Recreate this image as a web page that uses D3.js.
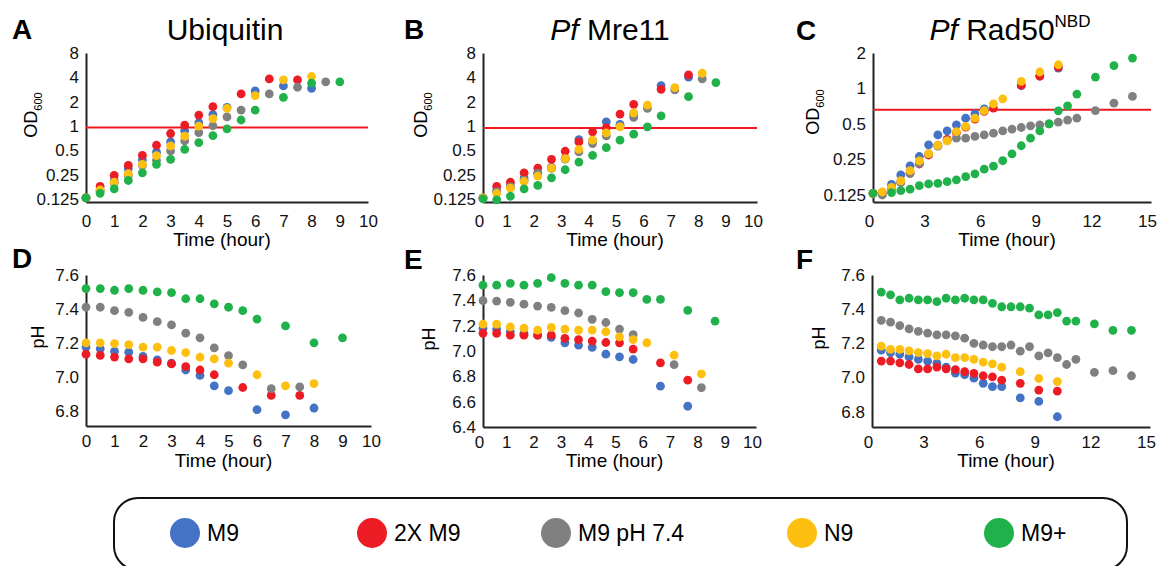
<!DOCTYPE html>
<html>
<head>
<meta charset="utf-8">
<script src="https://cdn.jsdelivr.net/npm/d3@7"></script>
<style>
  body { margin: 0; background: #fff; }
  text { font-family: "Liberation Sans", Arial, Helvetica, sans-serif; }
</style>
</head>
<body>
<svg id="fig" width="1159" height="566"></svg>
<script>
// growth media, in drawing order (later series sit on top, like the excel plot)
const media = ['M9', '2X M9', 'M9 pH 7.4', 'N9', 'M9+'];
const mediaColors = ['#4472c4', '#ed1c24', '#808080', '#fec010', '#21b14b'];

// OD600 readings, [hour, OD]
const odUbqM9   = [[0,.13],[.5,.163],[1,.213],[1.5,.298],[2,.385],[2.5,.48],[3,.638],[3.5,.874],[4,1.10],[4.5,1.39],[5,1.70],[6,2.72],[7,3.14],[8,2.93]];
const odUbq2X   = [[0,.13],[.5,.18],[1,.246],[1.5,.327],[2,.436],[2.5,.58],[3,.81],[3.5,1.03],[4,1.37],[4.5,1.74],[5.5,2.5],[6.5,3.83],[7.5,3.72]];
const odUbqPH   = [[0,.13],[.5,.157],[1,.198],[1.5,.246],[2,.327],[2.5,.378],[3,.493],[3.5,.657],[4,.83],[4.5,1.01],[5,1.30],[5.5,1.58],[6.5,2.5],[7.5,3.02],[8.5,3.52]];
const odUbqN9   = [[0,.13],[.5,.163],[1,.203],[1.5,.258],[2,.337],[2.5,.432],[3,.569],[3.5,.75],[4,1.0],[4.5,1.24],[5,1.66],[6,2.38],[7,3.72],[8,4.10]];
const odUbqPlus = [[0,.13],[.5,.148],[1,.168],[1.5,.213],[2,.265],[2.5,.337],[3,.389],[3.5,.517],[4,.626],[4.5,.765],[5,.925],[5.5,1.19],[6,1.58],[7,2.27],[8,3.39],[9,3.52]];

const odMreM9   = [[0,.13],[.5,.16],[1,.18],[1.5,.228],[2,.262],[2.5,.31],[3,.40],[3.5,.68],[4,.66],[4.5,1.13],[5,1.05],[5.5,1.40],[6.5,3.17],[7.5,4.02]];
const odMre2X   = [[0,.13],[.5,.18],[1,.203],[1.5,.265],[2,.303],[2.5,.389],[3,.489],[3.5,.638],[4,.85],[4.5,.95],[5,1.41],[5.5,1.86],[6.5,2.85],[7.5,4.3]];
const odMrePH   = [[0,.13],[.5,.155],[1,.178],[1.5,.215],[2,.262],[2.5,.30],[3,.39],[3.5,.48],[4,.608],[4.5,.758],[5,1.0],[5.5,1.28],[6,1.66],[7,2.8],[8,3.83]];
const odMreN9   = [[0,.13],[.5,.148],[1,.171],[1.5,.207],[2,.241],[2.5,.303],[3,.396],[3.5,.517],[4,.67],[4.5,.826],[5,.98],[5.5,1.46],[6,1.82],[7,2.99],[8,4.5]];
const odMrePlus = [[0,.126],[.5,.123],[1,.136],[1.5,.168],[2,.185],[2.5,.23],[3,.289],[3.5,.36],[4,.436],[4.5,.543],[5,.67],[5.5,.795],[6,.98],[6.5,1.34],[7.5,2.31],[8.5,3.45]];

const odRadM9   = [[0,.129],[.5,.131],[1,.154],[1.5,.185],[2,.221],[2.5,.265],[3,.333],[3.5,.404],[4,.437],[4.5,.492],[5,.56],[5.5,.608],[6,.673],[8,1.055],[9,1.28],[10,1.49]];
const odRad2X   = [[0,.129],[.5,.131],[1,.142],[1.5,.162],[2,.191],[2.5,.229],[3,.273],[3.5,.33],[4,.37],[4.5,.42],[5,.47],[5.5,.55],[6,.64],[6.5,.682],[8,1.07],[9,1.27],[10,1.52]];
const odRadPH   = [[.5,.125],[1,.142],[1.5,.159],[2,.191],[2.5,.232],[3,.279],[3.5,.324],[4,.362],[4.5,.379],[5,.379],[5.5,.392],[6,.404],[6.5,.418],[7,.437],[7.5,.452],[8,.467],[8.5,.482],[9,.492],[9.5,.502],[10,.518],[10.5,.54],[11,.56],[12,.65],[13,.751],[14,.856]];
const odRadN9   = [[0,.129],[.5,.133],[1,.145],[1.5,.165],[2,.201],[2.5,.243],[3,.28],[3.5,.33],[4,.36],[4.5,.43],[5,.476],[5.5,.56],[6,.65],[6.5,.742],[7,.818],[8,1.149],[9,1.38],[10,1.59]];
const odRadPlus = [[0,.129],[1,.131],[1.5,.136],[2,.140],[2.5,.150],[3,.155],[3.5,.157],[4,.162],[4.5,.168],[5,.179],[5.5,.189],[6,.207],[6.5,.220],[7,.244],[7.5,.279],[8,.327],[8.5,.379],[9,.437],[9.5,.502],[10,.647],[10.5,.713],[11,.896],[12,1.25],[13,1.56],[14,1.81]];

// OD cut-off drawn in red on each growth plot
const odCutoff = [0.96, 0.95, 0.66];

// pH readings, [hour, pH]
const phUbqM9   = [[0,7.175],[.5,7.165],[1,7.15],[1.5,7.145],[2,7.12],[2.5,7.10],[3,7.08],[3.5,7.04],[4,7.008],[4.5,6.947],[5,6.918],[6,6.806],[7,6.776],[8,6.816]];
const phUbq2X   = [[0,7.133],[.5,7.126],[1,7.116],[1.5,7.106],[2,7.106],[2.5,7.086],[3,7.076],[3.5,7.06],[4,7.04],[4.5,7.012],[5.5,6.937],[6.5,6.89],[7.5,6.89]];
const phUbqPH   = [[0,7.41],[.5,7.41],[1,7.39],[1.5,7.38],[2,7.35],[2.5,7.325],[3,7.306],[3.5,7.257],[4,7.23],[4.5,7.17],[5,7.125],[5.5,7.07],[6.5,6.93],[7.5,6.94]];
const phUbqN9   = [[0,7.20],[.5,7.20],[1,7.196],[1.5,7.19],[2,7.175],[2.5,7.175],[3,7.155],[3.5,7.143],[4,7.116],[4.5,7.106],[5,7.08],[6,7.012],[7,6.947],[8,6.96]];
const phUbqPlus = [[0,7.52],[.5,7.52],[1,7.51],[1.5,7.52],[2,7.51],[2.5,7.50],[3,7.496],[3.5,7.46],[4,7.46],[4.5,7.43],[5,7.41],[5.5,7.39],[6,7.34],[7,7.30],[8,7.20],[9,7.23]];

const phMreM9   = [[0,7.18],[.5,7.17],[1,7.152],[1.5,7.14],[2,7.125],[2.5,7.107],[3,7.065],[3.5,7.046],[4,7.028],[4.5,6.975],[5,6.954],[5.5,6.933],[6.5,6.722],[7.5,6.564]];
const phMre2X   = [[0,7.14],[.5,7.14],[1,7.125],[1.5,7.125],[2,7.125],[2.5,7.125],[3,7.10],[3.5,7.09],[4,7.078],[4.5,7.067],[5,7.065],[5.5,7.015],[6.5,6.906],[7.5,6.77]];
const phMrePH   = [[0,7.397],[.5,7.394],[1,7.384],[1.5,7.37],[2,7.355],[2.5,7.344],[3,7.318],[3.5,7.30],[4,7.25],[4.5,7.225],[5,7.173],[5.5,7.13],[7,6.893],[8,6.71]];
const phMreN9   = [[0,7.212],[.5,7.212],[1,7.19],[1.5,7.18],[2,7.165],[2.5,7.186],[3,7.173],[3.5,7.165],[4,7.165],[4.5,7.152],[5,7.112],[5.5,7.09],[6,7.065],[7,6.967],[8,6.82]];
const phMrePlus = [[0,7.52],[.5,7.52],[1,7.534],[1.5,7.52],[2,7.534],[2.5,7.579],[3,7.534],[3.5,7.52],[4,7.52],[4.5,7.468],[5,7.46],[5.5,7.46],[6,7.407],[6.5,7.407],[7.5,7.32],[8.5,7.236]];

const phRadM9   = [[.5,7.16],[1,7.146],[1.5,7.136],[2,7.12],[2.5,7.106],[3,7.096],[3.5,7.084],[4,7.06],[4.5,7.026],[5,7.016],[5.5,6.996],[6,6.966],[6.5,6.946],[7,6.946],[8,6.88],[9,6.86],[10,6.77]];
const phRad2X   = [[.5,7.096],[1,7.096],[1.5,7.086],[2,7.076],[2.5,7.05],[3,7.05],[3.5,7.06],[4,7.05],[4.5,7.046],[5,7.034],[5.5,7.024],[6,7.01],[6.5,7.004],[7,6.984],[8,6.966],[9,6.926],[10,6.92]];
const phRadPH   = [[.5,7.334],[1,7.324],[1.5,7.304],[2,7.284],[2.5,7.27],[3,7.26],[3.5,7.25],[4,7.25],[4.5,7.244],[5,7.23],[5.5,7.20],[6,7.19],[6.5,7.18],[7,7.18],[7.5,7.19],[8,7.154],[8.5,7.18],[9,7.126],[9.5,7.144],[10,7.116],[10.5,7.076],[11,7.106],[12,7.03],[13,7.04],[14,7.01]];
const phRadN9   = [[.5,7.184],[1,7.164],[1.5,7.164],[2,7.156],[2.5,7.146],[3,7.14],[3.5,7.126],[4,7.136],[4.5,7.116],[5,7.116],[5.5,7.106],[6,7.09],[6.5,7.08],[7,7.06],[8,7.034],[9,6.994],[10,6.976]];
const phRadPlus = [[.5,7.50],[1,7.484],[1.5,7.454],[2,7.464],[2.5,7.454],[3,7.454],[3.5,7.444],[4,7.464],[4.5,7.454],[5,7.464],[5.5,7.454],[6,7.454],[6.5,7.434],[7,7.414],[7.5,7.414],[8,7.414],[8.5,7.406],[9,7.366],[9.5,7.366],[10,7.38],[10.5,7.33],[11,7.33],[12,7.314],[13,7.276],[14,7.276]];

// tick values
const hourTicks10 = [0,1,2,3,4,5,6,7,8,9,10];
const hourTicks15 = [0,3,6,9,12,15];
const odTicks8 = [0.125,0.25,0.5,1,2,4,8];
const odTicks2 = [0.125,0.25,0.5,1,2];
const phTicks = [6.8,7.0,7.2,7.4,7.6];
const phTicksWide = [6.4,6.6,6.8,7.0,7.2,7.4,7.6];

const svg = d3.select('#fig');
const AXIS = '#222';

// one panel = one set of scales, two axis lines and five dot series
function drawPanel(p) {
    const g = svg.append('g').attr('class', 'panel');
    const x = d3.scaleLinear().domain(p.xDomain).range([p.left, p.right]);
    const y = (p.log ? d3.scaleLog().base(2) : d3.scaleLinear())
        .domain(p.yDomain).range([p.bottom, p.top]);

    const xg = g.append('g')
        .attr('transform', `translate(0,${p.bottom})`)
        .call(d3.axisBottom(x).tickValues(p.xTicks).tickSize(0).tickSizeOuter(0)
            .tickPadding(p.xPad).tickFormat(d3.format('d')));
    xg.selectAll('.tick text').attr('dx', p.xLabelShift || 0);
    g.append('g')
        .attr('transform', `translate(${p.left},0)`)
        .call(d3.axisLeft(y).tickValues(p.yTicks).tickSize(0).tickSizeOuter(0)
            .tickPadding(7).tickFormat(p.yFormat));
    g.selectAll('.domain').attr('stroke', AXIS).attr('stroke-width', 2);
    g.selectAll('.tick text')
        .attr('font-size', 17)
        .attr('fill', '#111');
    g.selectAll('g').attr('font-family', null);

    // red OD cut-off
    if (p.cutoff !== undefined) {
        g.append('line')
            .attr('x1', p.left).attr('x2', p.right)
            .attr('y1', y(p.cutoff)).attr('y2', y(p.cutoff))
            .attr('stroke', '#f0181e').attr('stroke-width', 2);
    }

    p.series.forEach((s, i) => {
        g.append('g').selectAll('circle')
            .data(s)
            .join('circle')
            .attr('cx', d => x(d[0]))
            .attr('cy', d => y(d[1]))
            .attr('r', 4.4)
            .attr('fill', mediaColors[i]);
    });

    // panel letter
    g.append('text')
        .attr('x', p.letterX).attr('y', p.letterY)
        .attr('font-size', 28).attr('font-weight', 'bold')
        .text(p.letter);

    // x title
    g.append('text')
        .attr('x', (p.left + p.right) / 2 - 5)
        .attr('y', p.bottom + p.xTitleDy)
        .attr('text-anchor', 'middle')
        .attr('font-size', 19)
        .text('Time (hour)');

    // y title, rotated
    const yt = g.append('text')
        .attr('transform', `translate(${p.yTitleX},${p.yTitleY}) rotate(-90)`)
        .attr('text-anchor', 'middle')
        .attr('font-size', 18);
    if (p.log) {
        yt.append('tspan').text('OD');
        yt.append('tspan').attr('font-size', 11).attr('dy', 5).text('600');
    } else {
        yt.text('pH');
    }

    // growth panels carry the protein title
    if (p.title) {
        const t = g.append('text')
            .attr('x', p.titleX).attr('y', 40)
            .attr('text-anchor', 'middle')
            .attr('font-size', 30);
        if (p.italicPrefix) {
            t.append('tspan').attr('font-style', 'italic').text(p.italicPrefix);
            t.append('tspan').text(' ');
        }
        t.append('tspan').text(p.title);
        if (p.sup) t.append('tspan').attr('font-size', 17).attr('dy', -13).text(p.sup);
    }
}

const odFmt = d => String(d);
const phFmt = d3.format('.1f');

const panels = [
    { letter: 'A', letterX: 12, letterY: 39, title: 'Ubiquitin', titleX: 225,
      log: true, xDomain: [0, 10], yDomain: [0.1155, 8], left: 86, right: 368, top: 53, bottom: 202,
      xTicks: hourTicks10, yTicks: odTicks8, yFormat: odFmt, xPad: 13, xTitleDy: 44,
      yTitleX: 37, yTitleY: 115, cutoff: odCutoff[0],
      series: [odUbqM9, odUbq2X, odUbqPH, odUbqN9, odUbqPlus] },
    { letter: 'B', letterX: 404, letterY: 39, title: 'Mre11', italicPrefix: 'Pf', titleX: 610,
      log: true, xDomain: [0, 10], yDomain: [0.1155, 8], left: 483, right: 757, top: 53, bottom: 202,
      xTicks: hourTicks10, yTicks: odTicks8, yFormat: odFmt, xPad: 13, xTitleDy: 44, xLabelShift: -4,
      yTitleX: 427, yTitleY: 115, cutoff: odCutoff[1],
      series: [odMreM9, odMre2X, odMrePH, odMreN9, odMrePlus] },
    { letter: 'C', letterX: 796, letterY: 40, title: 'Rad50', italicPrefix: 'Pf', sup: 'NBD', titleX: 1010,
      log: true, xDomain: [0, 15], yDomain: [0.109, 2], left: 873, right: 1151, top: 53, bottom: 202,
      xTicks: hourTicks15, yTicks: odTicks2, yFormat: odFmt, xPad: 13, xTitleDy: 44, xLabelShift: -4,
      yTitleX: 819, yTitleY: 112, cutoff: odCutoff[2],
      series: [odRadM9, odRad2X, odRadPH, odRadN9, odRadPlus] },
    { letter: 'D', letterX: 12, letterY: 268,
      log: false, xDomain: [0, 10], yDomain: [6.71, 7.6], left: 86, right: 371, top: 275, bottom: 426,
      xTicks: hourTicks10, yTicks: phTicks, yFormat: phFmt, xPad: 9, xTitleDy: 41,
      yTitleX: 44, yTitleY: 337,
      series: [phUbqM9, phUbq2X, phUbqPH, phUbqN9, phUbqPlus] },
    { letter: 'E', letterX: 404, letterY: 269,
      log: false, xDomain: [0, 10], yDomain: [6.4, 7.6], left: 483, right: 756, top: 275, bottom: 427,
      xTicks: hourTicks10, yTicks: phTicksWide, yFormat: phFmt, xPad: 9, xTitleDy: 40, xLabelShift: -4,
      yTitleX: 435, yTitleY: 339,
      series: [phMreM9, phMre2X, phMrePH, phMreN9, phMrePlus] },
    { letter: 'F', letterX: 796, letterY: 269,
      log: false, xDomain: [0, 15], yDomain: [6.71, 7.6], left: 872, right: 1150, top: 275, bottom: 427,
      xTicks: hourTicks15, yTicks: phTicks, yFormat: phFmt, xPad: 9, xTitleDy: 40, xLabelShift: -4,
      yTitleX: 825, yTitleY: 338,
      series: [phRadM9, phRad2X, phRadPH, phRadN9, phRadPlus] },
];

panels.forEach(drawPanel);

// legend box along the bottom edge
const legendX = [185, 372, 556, 802, 999];
const legend = svg.append('g').attr('class', 'legend');
legend.append('rect')
    .attr('x', 114).attr('y', 498)
    .attr('width', 1013).attr('height', 72)
    .attr('rx', 24)
    .attr('fill', 'none').attr('stroke', '#111').attr('stroke-width', 2);
const items = legend.selectAll('g.item')
    .data(media)
    .join('g')
    .attr('class', 'item')
    .attr('transform', (d, i) => `translate(${legendX[i]},533)`);
items.append('circle').attr('r', 15).attr('fill', (d, i) => mediaColors[i]);
items.append('text')
    .attr('x', 22).attr('y', 8)
    .attr('font-size', 23)
    .text(d => d);
</script>
</body>
</html>
